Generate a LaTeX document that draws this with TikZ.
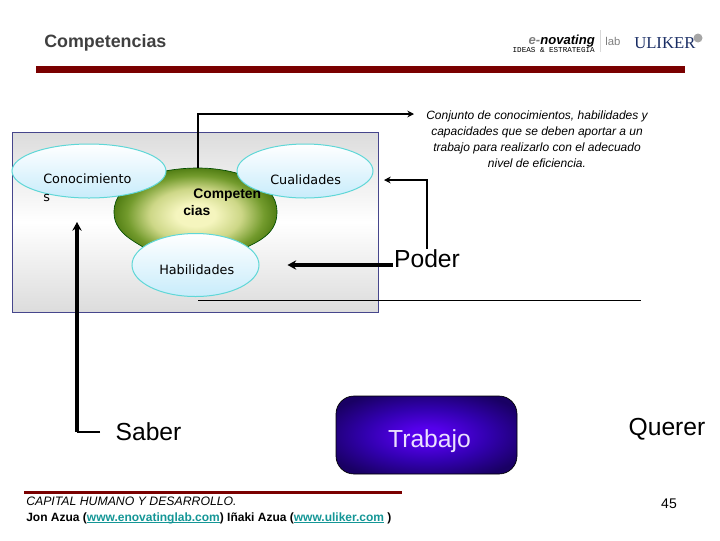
\documentclass[tikz,border=0pt]{standalone}
\usepackage{amsmath,amssymb,graphicx,xcolor,tikz}
\usetikzlibrary{shapes.geometric,arrows.meta}
\usepackage{fontspec}
\setmainfont{Liberation Sans}
\newfontfamily\dejafont{DejaVu Sans}
\newfontfamily\serifont{Liberation Serif}
\newfontfamily\monofont{Liberation Mono}
\definecolor{barred}{RGB}{122,0,0}
\definecolor{framenavy}{RGB}{70,70,140}
\definecolor{framegray}{RGB}{220,220,220}
\definecolor{bubbleline}{RGB}{95,215,215}
\definecolor{bubbleblue}{RGB}{200,236,251}
\definecolor{linkteal}{RGB}{20,150,150}
\definecolor{blobgreen}{RGB}{75,120,15}
\definecolor{blobmid}{RGB}{115,155,45}
\definecolor{blobsoft}{RGB}{205,215,135}
\definecolor{blobpale}{RGB}{245,245,190}
\definecolor{workdark}{RGB}{25,0,100}
\definecolor{workmid}{RGB}{50,0,175}
\definecolor{workbright}{RGB}{85,0,235}
\definecolor{workword}{RGB}{235,225,255}
\definecolor{titlegray}{RGB}{64,64,64}
\definecolor{ulikernavy}{RGB}{25,45,100}
\pgfdeclareradialshading{blobshade}{\pgfpoint{0bp}{0bp}}{color(0bp)=(blobpale); color(6bp)=(blobpale); color(14bp)=(blobsoft); color(21bp)=(blobmid); color(26bp)=(blobgreen); color(50bp)=(blobgreen)}
\pgfdeclareradialshading{workshade}{\pgfpoint{0bp}{0bp}}{color(0bp)=(workbright); color(5bp)=(workbright); color(17bp)=(workmid); color(30bp)=(workdark); color(50bp)=(workdark)}
\newcommand{\weblink}[1]{\textcolor{linkteal}{\setbox0\hbox{#1}\rlap{\rule[-1pt]{\wd0}{0.6pt}}\box0}}

\begin{document}
\begin{tikzpicture}[x=0.75pt,y=0.75pt,yscale=-1,xscale=1,
  bubble/.style={ellipse,draw=bubbleline,line width=0.75pt,top color=white,bottom color=bubbleblue,minimum width=0pt},
  bigword/.style={font=\fontsize{18.5}{22}\selectfont,inner sep=0.75pt},
  bubbleword/.style={font=\dejafont\fontsize{9.6}{13.5}\selectfont,inner sep=0.75pt,align=left},
  thinarrow/.style={-{Stealth[length=5pt,width=5pt]},line width=1.2pt},
  fatarrow/.style={-{Stealth[length=6.5pt,width=7pt]},line width=3pt},
  barline/.style={fill=barred,draw=none}]

\useasboundingbox (0,0) rectangle (720,540);

\draw (43,41) node [anchor=west][inner sep=0.75pt] [font=\bfseries\fontsize{13.4}{17}\selectfont,text=titlegray,yshift=-1.5pt] (title) {Competencias};

\fill [barline] (36,66) rectangle (685,73);

\draw (596,41) node [anchor=east][inner sep=0.75pt] [font=\bfseries\itshape\fontsize{9.8}{12}\selectfont] (enovating) {\textcolor{gray}{e-}novating};
\draw (596,50) node [anchor=east][inner sep=0.75pt] [font=\monofont\fontsize{5.7}{6}\selectfont] (ideas) {IDEAS \& ESTRATEGIA};
\draw [color=black!15] (600,30) -- (600,52) ;
\draw (604,41) node [anchor=west][inner sep=0.75pt] [font=\fontsize{8.5}{10}\selectfont,text=gray] (labword) {lab};
\draw (633,43) node [anchor=west][inner sep=0.75pt] [font=\serifont\fontsize{12.5}{14}\selectfont,text=ulikernavy] (uliker) {ULIKER};
\fill [color=black!35] (698,38) circle (4.5);

\draw [draw=framenavy,line width=0.75pt,top color=framegray,bottom color=framegray,middle color=white] (12,132) rectangle (378,312);

\draw [draw=black!70!green,line width=0.5pt,shading=blobshade] (198,168) .. controls (232,168) and (277,180) .. (277,212) .. controls (277,232) and (262,240) .. (245,248) .. controls (225,262) and (165,262) .. (143,247) .. controls (128,238) and (114,230) .. (114,212) .. controls (114,180) and (160,168) .. (198,168) -- cycle ;

\draw (89,171) node [bubble,minimum width=115.5pt,minimum height=40.5pt] (knowledge) {};
\draw (305,171) node [bubble,minimum width=102pt,minimum height=40.5pt] (qualities) {};
\draw (195.5,265) node [bubble,minimum width=95.25pt,minimum height=47.25pt] (skills) {};

\draw (42,188) node [anchor=west] [bubbleword] (knowledgeword) {Conocimiento\\s};
\draw (269,180) node [anchor=west] [bubbleword] (qualitiesword) {Cualidades};
\draw (158,270) node [anchor=west] [bubbleword] (skillsword) {Habilidades};
\draw (182,202.5) node [anchor=west][inner sep=0.75pt] [align=left,font=\bfseries\fontsize{10.4}{12.8}\selectfont] (core) {\hspace*{7.5pt}Competen\\cias};

\draw (537,139) node [inner sep=0.75pt] [align=center,font=\itshape\fontsize{9}{12}\selectfont] (meaning) {Conjunto de conocimientos, habilidades y\\capacidades que se deben aportar a un\\trabajo para realizarlo con el adecuado\\nivel de eficiencia.};

\draw (427,259) node [bigword] (power) {Poder};
\draw (148.5,432) node [bigword] (know) {Saber};
\draw (667,429) node [bigword] (want) {Querer};

\draw [draw=black,line width=0.5pt,rounded corners=13.5pt,shading=workshade] (336,396) rectangle (517,474);
\draw (429.5,441) node [bigword,text=workword] (work) {Trabajo};

\coordinate (core_top) at (198,168);
\coordinate (meaning_tip) at (414,114);
\coordinate (qualities_tip) at (384,180);
\coordinate (know_corner) at (77,432);
\coordinate (knowledge_tip) at (77,222);
\coordinate (know_out) at (100,432);
\coordinate (rule_left) at (198,300);
\coordinate (rule_right) at (641,300);

\draw [thinarrow] (core_top) |- (meaning_tip) ;
\draw [thinarrow] (power.north) |- (qualities_tip) ;
\draw [fatarrow,shorten >=21pt] (power.west |- skills) -- (skills.east) ;
\draw [line width=1.2pt] (know_out) -- (know_corner) ;
\draw [fatarrow] (know_corner) -- (knowledge_tip) ;
\draw [line width=0.75pt] (rule_left) -- (rule_right) ;

\fill [barline] (24,491) rectangle (402,494);

\draw (25,510) node [anchor=west][inner sep=0.75pt] [align=left,font=\fontsize{9.2}{12}\selectfont] (credits) {\textit{CAPITAL HUMANO Y DESARROLLO.}\\\fontsize{9}{12}\selectfont\textbf{Jon Azua (\weblink{www.enovatinglab.com}) Iñaki Azua (\weblink{www.uliker.com} )}};

\draw (669,504) node [inner sep=0.75pt] [font=\fontsize{10.5}{12}\selectfont] (pagenumber) {45};

\end{tikzpicture}
\end{document}
